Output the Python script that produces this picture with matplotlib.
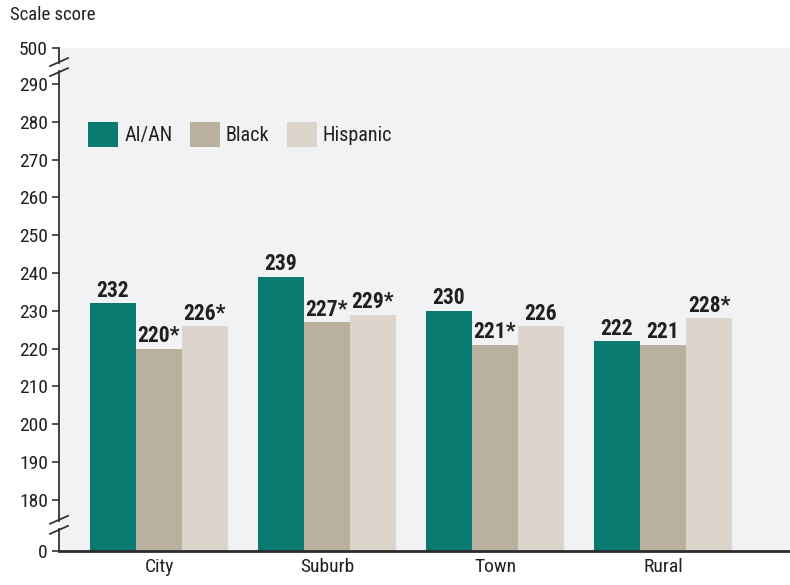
import numpy as np
import matplotlib
matplotlib.use("Agg")
import matplotlib.pyplot as plt

plt.rcParams['font.family'] = ['Roboto Condensed', 'Liberation Sans Narrow', 'Roboto', 'DejaVu Sans']

# data
locales = ["City", "Suburb", "Town", "Rural"]
groups = ["AI/AN", "Black", "Hispanic"]
aian = [232, 239, 230, 222]
black = [220, 227, 221, 221]
hispanic = [226, 229, 226, 228]
aian_lbl = ["232", "239", "230", "222"]
black_lbl = ["220*", "227*", "221*", "221"]
hisp_lbl = ["226*", "229*", "226", "228*"]
yticks = [0, 180, 190, 200, 210, 220, 230, 240, 250, 260, 270, 280, 290, 500]

colors = ["#097b70", "#bab09f", "#dbd5cc"]
txt = "#231f20"

# broken axis: 0-180 and 290-500 squeezed
bp_data = [0, 180, 290, 500]
bp_disp = [166.5, 180, 290, 299.5]


def fwd(v):
    return np.interp(v, bp_data, bp_disp)


def inv(v):
    return np.interp(v, bp_disp, bp_data)


fig = plt.figure(figsize=(7.9, 5.85), dpi=100)
ax = fig.add_axes([59 / 790, 34 / 585, 731 / 790, 503 / 585])
ax.set_facecolor("#f1f2f4")
ax.set_yscale("function", functions=(fwd, inv))
ax.set_ylim(0, 500)
ax.set_xlim(-0.595, 3.756)

x = np.arange(len(locales))
w = 0.274
series = [aian, black, hispanic]
labels = [aian_lbl, black_lbl, hisp_lbl]
for i, (vals, lbls) in enumerate(zip(series, labels)):
    bars = ax.bar(x + (i - 1) * w, vals, w, color=colors[i], label=groups[i], zorder=2)
    for b, s in zip(bars, lbls):
        ax.annotate(s, (b.get_x() + b.get_width() / 2, b.get_height()),
                    xytext=(0, 1), textcoords="offset points",
                    ha="center", va="bottom", fontsize=15.5, fontweight="bold", color=txt)

ax.set_yticks(yticks)
ax.set_yticklabels([str(t) for t in yticks])
ax.set_xticks(x)
ax.set_xticklabels(locales)
ax.tick_params(axis="y", length=5, width=1.2, color="#333333", labelsize=14, labelcolor=txt, pad=3)
ax.tick_params(axis="x", length=0, labelsize=14, labelcolor=txt, pad=5)

for s in ["top", "right", "left"]:
    ax.spines[s].set_visible(False)
ax.spines["bottom"].set_color("#2b2b2b")
ax.spines["bottom"].set_linewidth(2)

# y axis line with break marks
lk = dict(transform=ax.transAxes, color="#333333", lw=1.3, clip_on=False, zorder=5)
ax.plot([0, 0], [1, 0.970], **lk)
ax.plot([0, 0], [0.954, 0.060], **lk)
ax.plot([0, 0], [0.044, 0], **lk)
dx = 9 / 731
dy = 4 / 503
for yc in [0.972, 0.952, 0.062, 0.042]:
    ax.plot([-dx, dx], [yc - dy, yc + dy], **lk)

ax.legend(loc="upper left", bbox_to_anchor=(0.026, 0.872), ncol=3, frameon=False,
          fontsize=14.5, handlelength=1.5, handleheight=1.5, handletextpad=0.3,
          columnspacing=0.85, borderpad=0, labelcolor=txt)

fig.text(10 / 790, 1 - 15 / 585, "Scale score", fontsize=13.5, color=txt, va="center", ha="left")

fig.savefig("out.png", dpi=100)
